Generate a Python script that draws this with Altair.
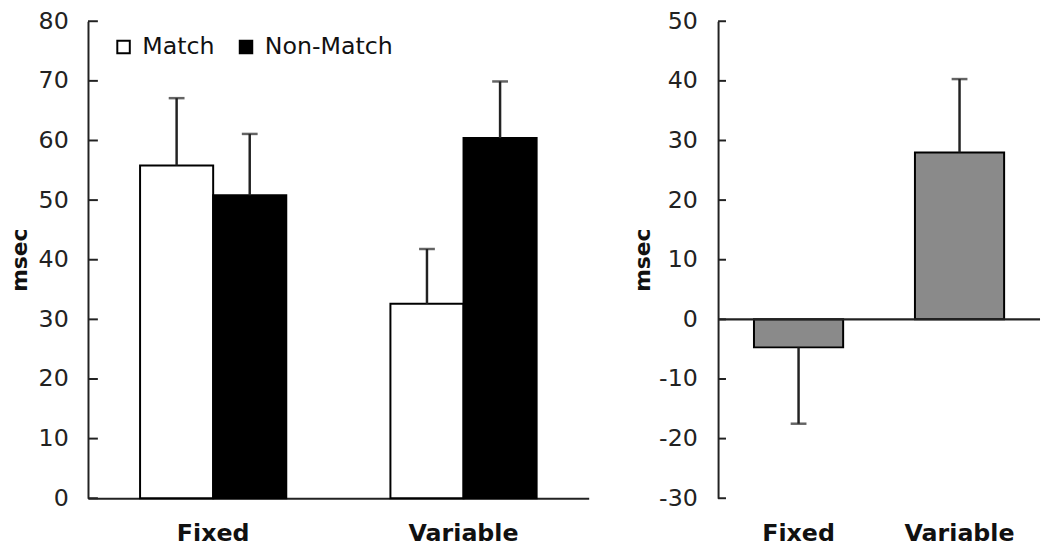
import altair as alt
import pandas as pd
import numpy as np

# ---- data ----
conditions = ["Fixed", "Variable"]
groups = ["Match", "Non-Match"]
match_means = [55.8, 32.6]
match_errs = [11.3, 9.2]
nonmatch_means = [50.8, 60.4]
nonmatch_errs = [10.3, 9.5]
diff_means = [-4.7, 28.0]
diff_errs = [12.8, 12.3]
left_ticks = [0, 10, 20, 30, 40, 50, 60, 70, 80]
right_ticks = [-30, -20, -10, 0, 10, 20, 30, 40, 50]

FONT = "DejaVu Sans"
AX = "#222222"

rows = []
for i, c in enumerate(conditions):
    rows.append(dict(cond=c, group=groups[0], mean=match_means[i], err=match_errs[i]))
    rows.append(dict(cond=c, group=groups[1], mean=nonmatch_means[i], err=nonmatch_errs[i]))
left_df = pd.DataFrame(rows)
left_df["end"] = left_df["mean"] + left_df["err"]

right_df = pd.DataFrame({"cond": conditions, "mean": diff_means, "err": diff_errs})
right_df["end"] = right_df["mean"] + np.sign(right_df["mean"]) * right_df["err"]

left_tick_df = pd.DataFrame({"v": left_ticks})
right_tick_df = pd.DataFrame({"v": right_ticks})
zero_df = pd.DataFrame({"v": [0]})

# ---- left panel ----
x_left = alt.X(
    "cond:N", sort=conditions, title=None,
    scale=alt.Scale(paddingInner=0.416, paddingOuter=0.208),
    axis=alt.Axis(labelAngle=0, labelFont=FONT, labelFontWeight="bold", labelFontSize=24,
                  labelColor="#111111", labelPadding=24, ticks=False, tickSize=0,
                  domain=True, domainColor=AX, domainWidth=2),
)
y_axis_left = alt.Axis(values=left_ticks, title="msec", titleFont=FONT, titleFontSize=22,
                       titleFontWeight="bold", titleColor="#111111", titlePadding=7,
                       labelFont=FONT, labelFontSize=24, labelColor="#222222", labelPadding=20,
                       labelExpr="'' + datum.value",
                       ticks=False, tickSize=0, grid=False, domainColor=AX, domainWidth=2)
y_scale_left = alt.Scale(domain=[0, 80], nice=False, zero=False)
xoff = alt.XOffset("group:N", sort=groups, scale=alt.Scale(paddingInner=0, paddingOuter=0))

left_bars = alt.Chart(left_df).mark_bar(stroke="black", strokeWidth=2).encode(
    x=x_left,
    xOffset=xoff,
    y=alt.Y("mean:Q", scale=y_scale_left, axis=y_axis_left),
    y2=alt.Y2(datum=0),
    color=alt.Color(
        "group:N", sort=groups,
        scale=alt.Scale(domain=groups, range=["white", "black"]),
        legend=alt.Legend(orient="none", legendX=24, legendY=14, direction="horizontal",
                          title=None, symbolType="square", symbolSize=160,
                          symbolStrokeColor="black", symbolStrokeWidth=2,
                          labelFont=FONT, labelFontSize=24, labelColor="#111111",
                          labelOffset=7, columnPadding=19, padding=0),
    ),
)
left_err = alt.Chart(left_df).mark_rule(color=AX, strokeWidth=2.5).encode(
    x=x_left, xOffset=xoff,
    y=alt.Y("mean:Q", scale=y_scale_left, axis=y_axis_left),
    y2="end:Q",
)
left_cap = alt.Chart(left_df).mark_tick(color=AX, thickness=2.5, size=16, orient="horizontal").encode(
    x=x_left, xOffset=xoff,
    y=alt.Y("end:Q", scale=y_scale_left, axis=y_axis_left),
)
left_inner_ticks = alt.Chart(left_tick_df).mark_rule(color=AX, strokeWidth=2).encode(
    y=alt.Y("v:Q", scale=y_scale_left, axis=y_axis_left),
    x=alt.value(0), x2=alt.value(10),
)
left = alt.layer(left_bars, left_err, left_cap, left_inner_ticks).properties(
    width=507, height=483,
)

# ---- right panel ----
x_right = alt.X(
    "cond:N", sort=conditions, title=None,
    scale=alt.Scale(paddingInner=0.446, paddingOuter=0.223),
    axis=alt.Axis(labelAngle=0, labelFont=FONT, labelFontWeight="bold", labelFontSize=24,
                  labelColor="#111111", labelPadding=24, ticks=False, tickSize=0, domain=False),
)
y_axis_right = alt.Axis(values=right_ticks, title="msec", titleFont=FONT, titleFontSize=22,
                        titleFontWeight="bold", titleColor="#111111", titlePadding=4,
                        labelFont=FONT, labelFontSize=24, labelColor="#222222", labelPadding=21,
                        labelExpr="'' + datum.value",
                        ticks=False, tickSize=0, grid=False, domainColor=AX, domainWidth=2)
y_scale_right = alt.Scale(domain=[-30, 50], nice=False, zero=False)

right_bars = alt.Chart(right_df).mark_bar(color="#8a8a8a", stroke="black", strokeWidth=2).encode(
    x=x_right,
    y=alt.Y("mean:Q", scale=y_scale_right, axis=y_axis_right),
    y2=alt.Y2(datum=0),
)
right_err = alt.Chart(right_df).mark_rule(color=AX, strokeWidth=2.5).encode(
    x=x_right,
    y=alt.Y("mean:Q", scale=y_scale_right, axis=y_axis_right),
    y2="end:Q",
)
right_cap = alt.Chart(right_df).mark_tick(color=AX, thickness=2.5, size=16, orient="horizontal").encode(
    x=x_right,
    y=alt.Y("end:Q", scale=y_scale_right, axis=y_axis_right),
)
zero_line = alt.Chart(zero_df).mark_rule(color=AX, strokeWidth=2.5).encode(
    y=alt.Y("v:Q", scale=y_scale_right, axis=y_axis_right),
)
right_inner_ticks = alt.Chart(right_tick_df).mark_rule(color=AX, strokeWidth=2).encode(
    y=alt.Y("v:Q", scale=y_scale_right, axis=y_axis_right),
    x=alt.value(0), x2=alt.value(8),
)
right = alt.layer(right_bars, right_err, right_cap, zero_line, right_inner_ticks).properties(
    width=326, height=483)

chart = alt.hconcat(left, right, spacing=43).properties(
    padding={"left": 0, "top": -2, "right": 0, "bottom": 0},
    background="white",
).configure_view(stroke=None)

chart.save("out.html", embed_options={"renderer": "svg", "actions": False})
